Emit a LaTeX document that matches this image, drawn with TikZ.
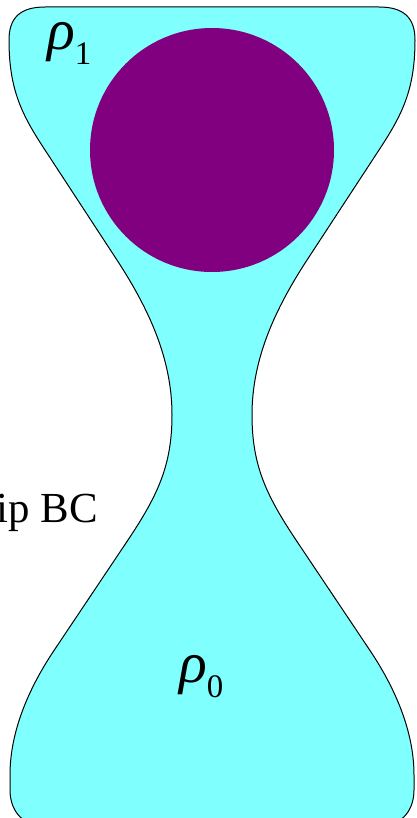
\documentclass[tikz,border=0pt]{standalone}
\usepackage{fontspec}
\setmainfont{Liberation Serif}
\definecolor{fluidcyan}{HTML}{80FFFF}
\definecolor{dropviolet}{HTML}{800080}
\newcommand{\rholabel}[1]{{\fontsize{58}{58}\selectfont\itshape ρ}{\fontsize{33}{33}\selectfont\raisebox{-15bp}{#1}}}
\begin{document}
\begin{tikzpicture}[x=1bp, y=-1bp,
  wall/.style={draw=black, line width=1bp, fill=fluidcyan},
  label/.style={inner sep=0pt, font=\fontsize{43}{43}\selectfont}]
\useasboundingbox (0,0) rectangle (416,818);
% the fluid region
\path[wall] (45,7) -- (379,7) .. controls (404,7) and (415,18) .. (415,40)
  .. controls (415,90) and (402,115) .. (379,150) -- (309,257)
  .. controls (274,310) and (252,360) .. (252,415)
  .. controls (252,465) and (266,495) .. (296,540) -- (369,649)
  .. controls (394,686) and (414,730) .. (414,775) -- (414,790)
  .. controls (414,808) and (404,826) .. (379,826) -- (45,826)
  .. controls (20,826) and (10,808) .. (10,790) -- (10,775)
  .. controls (10,730) and (30,686) .. (55,649) -- (128,540)
  .. controls (158,495) and (172,465) .. (172,415)
  .. controls (172,360) and (150,310) .. (115,257) -- (45,150)
  .. controls (22,115) and (9,90) .. (9,40)
  .. controls (9,18) and (20,7) .. (45,7) -- cycle;
% the drop
\fill[dropviolet] (212,150) circle (122);
\node[label, anchor=base west] (rhoone) at (47,50) {\rholabel{1}};
\node[label, anchor=base west] (rhozero) at (179,682) {\rholabel{0}};
\node[label, anchor=base east] (bc) at (98,522) {ip BC};
\end{tikzpicture}
\end{document}
